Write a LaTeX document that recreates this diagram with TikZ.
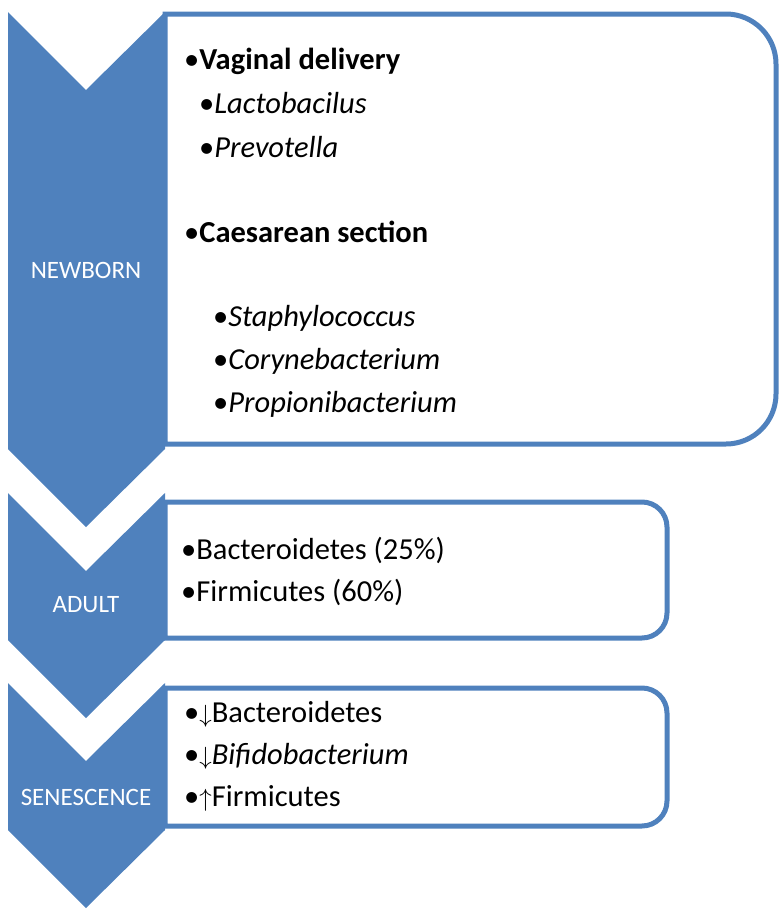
\documentclass[tikz,border=0pt]{standalone}
\usepackage{fontspec}
\setmainfont{Carlito}
\definecolor{acc}{HTML}{4F81BD}
\begin{document}
\begin{tikzpicture}[x=1pt,y=-1pt,
  chev/.style={fill=acc,draw=none},
  box/.style={draw=acc,line width=5pt,fill=white},
  lab/.style={text=white,font=\fontsize{25}{28}\selectfont},
  txt/.style={anchor=west,inner sep=0pt,font=\fontsize{30.5}{33}\selectfont}]
\useasboundingbox (0,0) rectangle (784,916);
% chevrons
\fill[acc] (8,12) -- (86,90) -- (165,12) -- (165,449) -- (86,527) -- (8,449) -- cycle;
\fill[acc] (8,493) -- (86,571) -- (165,493) -- (165,640) -- (86,718) -- (8,640) -- cycle;
\fill[acc] (8,683) -- (86,761) -- (165,683) -- (165,830) -- (86,908) -- (8,830) -- cycle;
% boxes
\draw[box] (165,14) [rounded corners=50pt] -- (776,14) -- (776,444) [sharp corners] -- (165,444) -- cycle;
\draw[box] (165,502) [rounded corners=25pt] -- (667,502) -- (667,638) [sharp corners] -- (165,638) -- cycle;
\draw[box] (165,688) [rounded corners=25pt] -- (667,688) -- (667,826) [sharp corners] -- (165,826) -- cycle;
% labels
\node[lab] (nb) at (86,270) {NEWBORN};
\node[lab] (ad) at (86,605) {ADULT};
\node[lab] (se) at (86,797) {SENESCENCE};
% texts
\node[txt] (t1) at (184,61) {\textbullet\textbf{Vaginal delivery}};
\node[txt] (t2) at (199,103) {\textbullet\textit{Lactobacilus}};
\node[txt] (t3) at (199,147) {\textbullet\textit{Prevotella}};
\node[txt] (t4) at (184,232) {\textbullet\textbf{Caesarean section}};
\node[txt] (t5) at (213,318) {\textbullet\textit{Staphylococcus}};
\node[txt] (t6) at (213,361) {\textbullet\textit{Corynebacterium}};
\node[txt] (t7) at (213,404) {\textbullet\textit{Propionibacterium}};
\node[txt] (a1) at (181,550) {\textbullet Bacteroidetes (25\%)};
\node[txt] (a2) at (181,592) {\textbullet Firmicutes (60\%)};
\node[txt] (s1) at (184,714) {\textbullet$\downarrow$Bacteroidetes};
\node[txt] (s2) at (184,756) {\textbullet$\downarrow$\textit{Bifidobacterium}};
\node[txt] (s3) at (184,798) {\textbullet$\uparrow$Firmicutes};
\end{tikzpicture}
\end{document}
